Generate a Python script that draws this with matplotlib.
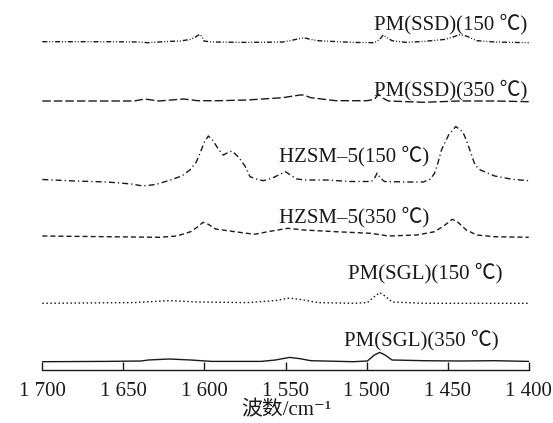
import matplotlib
matplotlib.use("Agg")
import matplotlib.pyplot as plt

plt.rcParams['font.family'] = ['Liberation Serif', 'Noto Sans CJK SC', 'DejaVu Sans']
plt.rcParams['lines.scale_dashes'] = False

# ---------------- data (wavenumber cm^-1, relative intensity a.u.) ----------------
ssd150_wn = [1700, 1660.8, 1641.2, 1634.6, 1628.1, 1621.6, 1615, 1608.5, 1605.2, 1603, 1601.5, 1600.4,
             1595.4, 1573.6, 1551.8, 1545.3, 1538.8, 1534.4, 1530, 1508.2, 1495.2, 1491.9, 1489.7,
             1487.6, 1484.3, 1475.6, 1464.7, 1451.6, 1446.1, 1442.9, 1438.5, 1432, 1421, 1400]
ssd150_int = [0, 0, -0.3, -1, -0.3, 0.3, 0.7, 2.3, 5, 7.3, 5, 0.7,
              -0.3, -0.7, -0.3, 1.7, 4, 2.3, 1, -0.7, -1, 2.3, 6.7,
              4.3, 1, -0.7, 0.3, 2.3, 5, 7, 5.7, 1, -0.3, -1]

ssd350_wn = [1700, 1643.3, 1636.8, 1628, 1612.8, 1604, 1591, 1573.6, 1551.8, 1541, 1538.8, 1534.4,
             1519, 1499.5, 1495.2, 1492.6, 1489.7, 1486.5, 1464.7, 1442.9, 1421, 1400]
ssd350_int = [0, 0, 2, 0, 2, 0.3, 0.3, 1, 3.3, 6, 6, 3.3,
              0.3, 0.3, 1.7, 6.7, 2.7, 0, -1.3, 0, 0, -0.7]

hz150_wn = [1700, 1680, 1660, 1645, 1638, 1630, 1621, 1614, 1609, 1605, 1602.7, 1600, 1597.6, 1595,
            1591, 1588.3, 1585.5, 1583, 1579, 1575, 1571.9, 1567, 1563.7, 1558, 1553, 1550, 1547,
            1543, 1538, 1525, 1510, 1497, 1495, 1493.5, 1491.5, 1489, 1475, 1465, 1460.5, 1458,
            1456, 1453.8, 1449.4, 1445, 1440.7, 1438.5, 1436.3, 1433.1, 1429.8, 1421, 1410.2, 1400]
hz150_int = [1.5, 0, -1, -3, -5, -3.5, 1, 5, 11, 19, 28, 39, 45, 41,
             31, 26, 28.5, 30, 24, 15, 4.3, 1.5, 0.3, 3, 7, 9.3, 6,
             2, 1, 1, -0.5, -0.5, 3, 8, 3, -0.5, -1, -1, 2, 8,
             18, 31, 46, 54.5, 49.3, 41, 31, 16, 11, 5, 1.7, 0.3]

hz350_wn = [1700, 1660.8, 1628, 1617, 1608.5, 1604, 1600.9, 1597.6, 1593.2, 1584.5, 1569.3, 1558.4,
            1548.6, 1538.8, 1519, 1497.4, 1486.5, 1469, 1458, 1451.6, 1447.2, 1444, 1438.5, 1432,
            1421, 1400]
hz350_int = [0, -0.7, -1.3, 0, 4.3, 9.3, 13.7, 11.7, 7, 5, 1.7, 5,
             7.7, 6, 4.3, 2.7, 0, 1, 4.3, 11, 16.7, 14.3, 6, 1,
             -0.7, -1.3]

sgl150_wn = [1700, 1643.3, 1621.6, 1604, 1573.6, 1556.2, 1547.5, 1538.8, 1530, 1508.2, 1499.5, 1495.2,
             1491.9, 1488.6, 1484.3, 1464.7, 1400]
sgl150_int = [0, 0.7, 2.7, 1.3, 0.7, 2.7, 5.3, 3.3, 0.7, 0, 0.7, 6.7,
              10.7, 7.3, 1.3, 0, 0]

sgl350_wn = [1700, 1660.8, 1639, 1634.6, 1621.6, 1608.5, 1595.4, 1564.9, 1556.2, 1547.5, 1541, 1534.4,
             1508.2, 1499.5, 1495.2, 1491.9, 1488.6, 1484.3, 1464.7, 1442.9, 1421, 1400]
sgl350_int = [0, 0.3, 0.7, 1.7, 2.7, 1.7, 0.3, 0.3, 1.7, 4.3, 3, 1,
              0, 0.7, 6.7, 9.3, 6.7, 1.7, 1, 0.7, 1, 0.3]

labels = ['PM(SSD)(150 ℃)', 'PM(SSD)(350 ℃)', 'HZSM–5(150 ℃)', 'HZSM–5(350 ℃)',
          'PM(SGL)(150 ℃)', 'PM(SGL)(350 ℃)']
offsets = [327.8, 268.5, 188.5, 133.5, 66.2, 7.8]
label_x = [1495.7, 1495.5, 1554, 1554, 1511.6, 1513.7]
label_y = [340.2, 274.5, 207.8, 146.8, 91.2, 24.5]

xticks = [1700, 1650, 1600, 1550, 1500, 1450, 1400]
xticklabels = ['1 700', '1 650', '1 600', '1 550', '1 500', '1 450', '1 400']

# ---------------- plotting ----------------
W, H = 553, 423
fig = plt.figure(figsize=(W / 100, H / 100), dpi=100)
ax = fig.add_axes([42.3 / W, (H - 369.5) / H, 486.4 / W, 369.5 / H])
ax.patch.set_alpha(0)

col = '#1a1a1a'
series = [(ssd150_wn, ssd150_int), (ssd350_wn, ssd350_int), (hz150_wn, hz150_int),
          (hz350_wn, hz350_int), (sgl150_wn, sgl150_int), (sgl350_wn, sgl350_int)]
dash_styles = [(0, (3.6, 1.4, 0.7, 1.4, 0.7, 1.4)),
               (0, (6.1, 2.2)),
               (0, (4.3, 2.2, 0.9, 2.2)),
               (0, (3.6, 2.2)),
               (0, (1.1, 1.8)),
               '-']

for (wn, inten), off, ls, lab, lx, ly in zip(series, offsets, dash_styles, labels, label_x, label_y):
    ax.plot(wn, [v + off for v in inten], color=col, lw=1.0, linestyle=ls,
            solid_joinstyle='round')
    ax.text(lx, ly, lab, fontsize=15, ha='left', va='baseline', color=col)

ax.set_xlim(1700, 1400)
ax.set_ylim(0, 369.5)
for s in ['top', 'left', 'right']:
    ax.spines[s].set_visible(False)
ax.spines['bottom'].set_color(col)
ax.spines['bottom'].set_linewidth(1.0)
ax.set_yticks([])
ax.set_xticks(xticks)
ax.set_xticklabels(xticklabels, fontsize=15, color=col)
ax.tick_params(axis='x', direction='in', length=5.8, width=1.0, color=col, pad=9.2)

fig.text(286.7 / W, 1 - 411 / H, '波数/cm⁻¹', fontsize=15, ha='center', va='center', color=col)

fig.savefig('out.png', dpi=100)
